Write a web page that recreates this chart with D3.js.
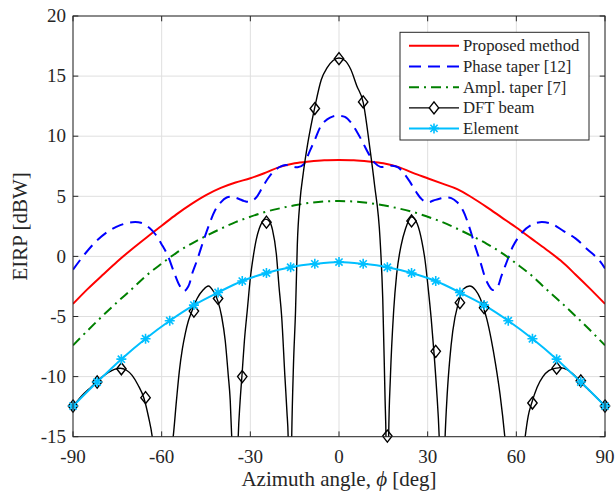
<!DOCTYPE html>
<html>
<head>
<meta charset="utf-8">
<script src="https://cdn.jsdelivr.net/npm/d3@7"></script>
<style>
  html, body { margin: 0; padding: 0; background: #fff; }
  svg { display: block; }
  text { font-family: "Liberation Serif", "Times New Roman", serif; fill: #262626; }
</style>
</head>
<body>
<div id="chart"></div>
<script>
// ---------------- data ----------------
const xTicks = [-90, -60, -30, 0, 30, 60, 90];
const yTicks = [-15, -10, -5, 0, 5, 10, 15, 20];

const seriesNames = ["Proposed method", "Phase taper [12]", "Ampl. taper [7]", "DFT beam", "Element"];

// Proposed method (red)
const propAngles = [-90,-85,-80,-75,-70,-65,-60,-55,-50,-45,-40,-35,-30,-25,-20,-15,-10,-5,0,5,10,15,20,25,30,35,40,45,50,55,60,65,70,75,80,85,90];
const propValues = [-3.95,-2.7,-1.55,-0.42,0.62,1.6,2.55,3.5,4.35,5.1,5.7,6.15,6.5,6.95,7.45,7.75,7.9,8.0,8.02,8.0,7.9,7.75,7.45,6.95,6.5,6.05,5.6,4.9,4.1,3.25,2.4,1.5,0.6,-0.35,-1.5,-2.7,-3.95];

// Ampl. taper (green)
const amplAngles = propAngles;
const amplValues = [-7.4,-6.15,-4.95,-3.8,-2.7,-1.55,-0.6,0.3,1.05,1.7,2.3,2.85,3.3,3.7,4.0,4.25,4.45,4.57,4.6,4.57,4.45,4.25,4.0,3.7,3.3,2.85,2.3,1.7,1.05,0.3,-0.6,-1.55,-2.7,-3.8,-4.95,-6.15,-7.4];

// Phase taper (blue dashed)
const phaseAngles = [-90,-86,-82,-78,-74,-70,-67,-64,-62,-60,-58,-56,-54,-52.5,-51,-49.5,-48,-46,-44,-42,-40,-38,-36,-34,-32,-30,-28,-26,-24,-22,-20,-18,-16,-14,-12,-10,-8,-6,-4,-2,0,2,4,6,8,10,12,14,16,18,20,22,24,26,28,30,32,34,36,38,40,42,44,46,48,50,52,53.5,55,57,59,62,65,68,72,76,80,84,88,90];
const phaseValues = [-1.1,0.2,1.3,2.1,2.6,2.85,2.8,2.35,1.8,1.0,0.1,-1.2,-2.4,-2.9,-2.5,-1.3,-0.3,1.2,2.6,3.8,4.5,4.9,4.95,4.8,4.6,4.55,4.9,5.7,6.5,7.1,7.45,7.6,7.5,7.42,7.65,8.7,9.8,10.9,11.4,11.65,11.7,11.6,11.15,10.4,9.5,8.55,7.8,7.45,7.46,7.55,7.4,6.9,6.2,5.4,4.75,4.5,4.65,4.8,4.9,4.85,4.5,3.8,2.5,0.9,-0.6,-2.1,-2.8,-2.6,-1.6,-0.3,0.9,2.0,2.6,2.85,2.7,2.1,1.5,0.6,-0.3,-1.0];

// DFT beam (black) curve
const dftAngles = [-90,-87,-84,-82,-80,-78,-76,-74,-72,-70,-68,-66,-64.5,-63.2,-62,-61,-60,-59,-58,-57,-56.1,-55,-54,-53,-52,-51,-50,-48,-46,-44.2,-42.5,-41,-39.7,-38.5,-37.5,-36.8,-36.3,-35.8,-35.2,-34.6,-34.1,-33.5,-32.8,-32,-31,-30,-29,-28,-27,-26,-24.8,-23.5,-22.5,-21.2,-20.3,-19.4,-18.3,-17.6,-17.2,-16.9,-16.6,-16.3,-16.0,-15.4,-14.7,-14.1,-13.2,-12.1,-10.5,-8.2,-6,-4,-2,0,2,4,6,8.2,10.5,12,13.9,14.8,15.6,15.9,16.2,16.35,16.5,16.8,17.4,18.5,19.5,21,22.5,24.6,26.5,28,29.1,30.2,31.2,32.1,33,33.9,34.4,34.9,35.4,35.9,36.6,37.5,38.5,40.4,42.2,44.2,46.2,47.8,48.9,50,51.5,53,54.5,56.1,57,58,59.3,60.5,61.8,63,64,65.2,67,69,71,73.5,74.8,77,79,81.4,84,87,90];
const dftValues = [-12.5,-11.6,-10.9,-10.45,-10.0,-9.65,-9.4,-9.3,-9.45,-9.9,-10.7,-11.8,-13.3,-15,-18,-23,-35,-24,-19,-16.5,-15,-12,-9.5,-7.7,-6.4,-5.4,-4.7,-3.5,-2.8,-2.46,-2.9,-3.7,-5,-7,-9.8,-12,-15,-19,-35,-20,-15,-12.2,-9.8,-7,-4.4,-1.8,0.0,1.4,2.3,2.85,3.1,2.9,2.2,0.2,-2.5,-5,-10,-13,-15,-19,-35,-20,-15,-9,-4.5,1.0,4.6,6.9,9.5,12.4,14.7,15.7,16.3,16.5,16.3,15.55,14.2,12.8,8.9,6.0,1.4,-3.5,-12,-15,-22,-35,-22,-15,-10,-4.5,-1.5,0.9,2.3,3.3,2.7,1.3,-0.3,-2.7,-5.2,-7.9,-11,-15,-19,-35,-19,-15,-11.5,-8.5,-6.2,-3.85,-2.7,-2.46,-2.8,-3.5,-4.27,-5.2,-6.9,-9,-11.5,-15,-17.5,-21,-35,-23,-18,-15,-13.3,-12.2,-10.9,-10.0,-9.5,-9.3,-9.25,-9.4,-9.75,-10.34,-11.0,-11.7,-12.45];

// marker positions (shared by DFT beam and Element)
const markerAngles = [-90,-81.82,-73.64,-65.45,-57.27,-49.09,-40.91,-32.73,-24.55,-16.36,-8.18,0,8.18,16.36,24.55,32.73,40.91,49.09,57.27,65.45,73.64,81.82,90];
const dftMarkerValues = [-12.45,-10.45,-9.35,-11.75,null,-4.55,-3.5,-10.0,2.85,null,12.3,16.45,12.85,-14.95,2.95,-7.9,-3.85,-4.27,null,-12.2,-9.3,-10.35,-12.45];
const elementValues = [-12.45,-10.45,-8.55,-6.85,-5.35,-4.05,-3.0,-2.05,-1.38,-0.9,-0.62,-0.47,-0.62,-0.9,-1.38,-2.05,-3.0,-4.05,-5.35,-6.85,-8.55,-10.45,-12.45];

// ---------------- layout ----------------
const W = 616, H = 494;
const L = 73, R = 605, T = 16, B = 436.7;
const fontTick = 19, fontLabel = 21, fontLegend = 16.7;
const axisColor = "#262626", gridColor = "#dfdfdf";

const colors = { prop: "#ff0000", phase: "#0000ff", ampl: "#008000", dft: "#000000", elem: "#00bfff" };

const svg = d3.select("#chart").append("svg").attr("width", W).attr("height", H);

const x = d3.scaleLinear().domain([-90, 90]).range([L, R]);
const y = d3.scaleLinear().domain([-15, 20]).range([B, T]);

// grid
const grid = svg.append("g");
grid.selectAll(".gx").data(xTicks).join("line")
  .attr("x1", d => x(d)).attr("x2", d => x(d)).attr("y1", T).attr("y2", B)
  .attr("stroke", gridColor).attr("stroke-width", 1);
grid.selectAll(".gy").data(yTicks).join("line")
  .attr("y1", d => y(d)).attr("y2", d => y(d)).attr("x1", L).attr("x2", R)
  .attr("stroke", gridColor).attr("stroke-width", 1);

// clip
svg.append("clipPath").attr("id", "clip").append("rect")
  .attr("x", L).attr("y", T).attr("width", R - L).attr("height", B - T);
const plot = svg.append("g").attr("clip-path", "url(#clip)");

function drawLine(ax, vals, color, width, dash, curve) {
  const pts = ax.map((a, i) => [a, vals[i]]);
  const line = d3.line().x(d => x(d[0])).y(d => y(d[1])).curve(curve || d3.curveCatmullRom.alpha(0.5));
  plot.append("path").datum(pts)
    .attr("d", line).attr("fill", "none").attr("stroke", color)
    .attr("stroke-width", width).attr("stroke-dasharray", dash || null)
    .attr("stroke-linejoin", "round");
}

const diamondPath = "M0,-6L4.7,0L0,6L-4.7,0Z";
const starPath = "M-5,0L5,0M0,-5L0,5M-3.6,-3.6L3.6,3.6M-3.6,3.6L3.6,-3.6";

drawLine(propAngles, propValues, colors.prop, 2);
drawLine(phaseAngles, phaseValues, colors.phase, 2, "12,7");
drawLine(amplAngles, amplValues, colors.ampl, 2, "10,5,2,5");
drawLine(dftAngles, dftValues, colors.dft, 1.4, null, d3.curveMonotoneX);

// DFT markers
const markG = svg.append("g");
markerAngles.forEach((a, i) => {
  const v = dftMarkerValues[i];
  if (v === null || v < -15 || v > 20) return;
  markG.append("path").attr("d", diamondPath)
    .attr("transform", `translate(${x(a)},${y(v)})`)
    .attr("fill", "none").attr("stroke", colors.dft).attr("stroke-width", 1.4);
});

// Element
drawLine(markerAngles, elementValues, colors.elem, 2);
markerAngles.forEach((a, i) => {
  const v = elementValues[i];
  markG.append("path").attr("d", starPath)
    .attr("transform", `translate(${x(a)},${y(v)})`)
    .attr("fill", "none").attr("stroke", colors.elem).attr("stroke-width", 1.6);
});

// axes box and ticks
const axG = svg.append("g");
axG.append("rect").attr("x", L).attr("y", T).attr("width", R - L).attr("height", B - T)
  .attr("fill", "none").attr("stroke", axisColor).attr("stroke-width", 1);
const tl = 5.3;
xTicks.forEach(t => {
  axG.append("line").attr("x1", x(t)).attr("x2", x(t)).attr("y1", B).attr("y2", B - tl).attr("stroke", axisColor);
  axG.append("line").attr("x1", x(t)).attr("x2", x(t)).attr("y1", T).attr("y2", T + tl).attr("stroke", axisColor);
  axG.append("text").attr("x", x(t)).attr("y", 462.5).attr("text-anchor", "middle")
    .attr("font-size", fontTick).text(t);
});
yTicks.forEach(t => {
  axG.append("line").attr("y1", y(t)).attr("y2", y(t)).attr("x1", L).attr("x2", L + tl).attr("stroke", axisColor);
  axG.append("line").attr("y1", y(t)).attr("y2", y(t)).attr("x1", R).attr("x2", R - tl).attr("stroke", axisColor);
  axG.append("text").attr("x", 66).attr("y", y(t)).attr("dy", "0.33em").attr("text-anchor", "end")
    .attr("font-size", fontTick).text(t);
});

// axis labels
const xl = axG.append("text").attr("x", (L + R) / 2).attr("y", 486).attr("text-anchor", "middle").attr("font-size", fontLabel);
xl.append("tspan").text("Azimuth angle, ");
xl.append("tspan").attr("font-style", "italic").text("ϕ");
xl.append("tspan").text(" [deg]");

axG.append("text").attr("transform", `translate(27,${(T + B) / 2}) rotate(-90)`)
  .attr("text-anchor", "middle").attr("font-size", fontLabel).text("EIRP [dBW]");

// legend
const lg = svg.append("g");
lg.append("rect").attr("x", 400).attr("y", 32.3).attr("width", 189).attr("height", 107.7)
  .attr("fill", "#fff").attr("stroke", axisColor).attr("stroke-width", 1);
const rowsY = [45.7, 66.5, 87.3, 107.9, 128.4];
const legendStyles = [
  { c: colors.prop, w: 2, dash: null, m: null },
  { c: colors.phase, w: 2, dash: "12,7", m: null },
  { c: colors.ampl, w: 2, dash: "10,5,2,5", m: null },
  { c: colors.dft, w: 1.4, dash: null, m: "d" },
  { c: colors.elem, w: 2, dash: null, m: "s" }
];
seriesNames.forEach((name, i) => {
  const s = legendStyles[i], yy = rowsY[i];
  lg.append("line").attr("x1", 409).attr("x2", 459).attr("y1", yy).attr("y2", yy)
    .attr("stroke", s.c).attr("stroke-width", s.w).attr("stroke-dasharray", s.dash);
  if (s.m === "d") lg.append("path").attr("d", diamondPath).attr("transform", `translate(434,${yy})`)
    .attr("fill", "#fff").attr("stroke", s.c).attr("stroke-width", 1.4);
  if (s.m === "s") lg.append("path").attr("d", starPath).attr("transform", `translate(434,${yy})`)
    .attr("fill", "none").attr("stroke", s.c).attr("stroke-width", 1.6);
  lg.append("text").attr("x", 463).attr("y", yy).attr("dy", "0.33em")
    .attr("font-size", fontLegend).text(name);
});
</script>
</body>
</html>
